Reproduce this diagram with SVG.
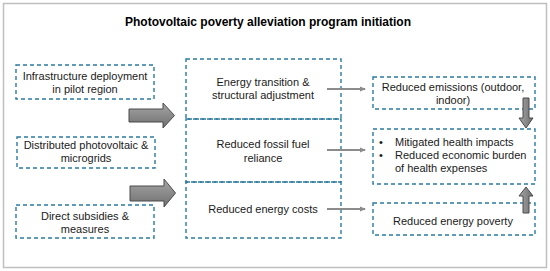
<svg xmlns="http://www.w3.org/2000/svg" width="550" height="271" viewBox="0 0 550 271">
<style>
.box{fill:none;stroke:#2b7aa0;stroke-width:1.4;stroke-dasharray:4 3}
.t{font-family:"Liberation Sans",Arial,sans-serif;font-size:11px;fill:#1a1a1a;text-anchor:middle}
.tl{font-family:"Liberation Sans",Arial,sans-serif;font-size:11px;fill:#1a1a1a}
.title{font-family:"Liberation Sans",Arial,sans-serif;font-size:12px;font-weight:bold;fill:#000;text-anchor:middle}
.thin{stroke:#8c8c8c;stroke-width:2;fill:none}
.blk{fill:url(#g);stroke:#4a4a4a;stroke-width:1}
.blkv{fill:url(#gv);stroke:#4a4a4a;stroke-width:1}
</style>
<defs>
<linearGradient id="g" x1="0" y1="0" x2="0" y2="1">
<stop offset="0" stop-color="#a6a6a6"/><stop offset="1" stop-color="#6f6f6f"/>
</linearGradient>
<linearGradient id="gv" x1="0" y1="0" x2="1" y2="0">
<stop offset="0" stop-color="#a6a6a6"/><stop offset="1" stop-color="#6f6f6f"/>
</linearGradient>
<marker id="ah" markerWidth="6" markerHeight="6" refX="5" refY="3" orient="auto" markerUnits="userSpaceOnUse">
<path d="M0,0.5 L6,3 L0,5.5 Z" fill="#8c8c8c"/>
</marker>
</defs>
<rect x="0" y="0" width="550" height="271" fill="#fff"/>
<rect x="3.5" y="3.5" width="543" height="264" fill="none" stroke="#bfbfbf" stroke-width="1.5"/>
<text class="title" x="268" y="26">Photovoltaic poverty alleviation program initiation</text>

<g id="infra"><rect class="box" x="16" y="65" width="138" height="34"/><text class="t" x="85" y="80">Infrastructure deployment</text><text class="t" x="85" y="93">in pilot region</text></g>
<g id="distributed"><rect class="box" x="17" y="137" width="138" height="31"/><text class="t" x="86" y="149">Distributed photovoltaic &amp;</text><text class="t" x="86" y="162">microgrids</text></g>
<g id="subsidies"><rect class="box" x="16" y="205" width="138" height="33"/><text class="t" x="85" y="220">Direct subsidies &amp;</text><text class="t" x="85" y="233">measures</text></g>

<g id="energy-transition"><rect class="box" x="186" y="59" width="155" height="60"/><text class="t" x="263" y="86">Energy transition &amp;</text><text class="t" x="263" y="99">structural adjustment</text></g>
<g id="fossil"><rect class="box" x="186" y="119" width="155" height="63"/><text class="t" x="263" y="148">Reduced fossil fuel</text><text class="t" x="263" y="162">reliance</text></g>
<g id="costs"><rect class="box" x="186" y="182" width="155" height="56"/><text class="t" x="263" y="213">Reduced energy costs</text></g>

<g id="emissions"><rect class="box" x="373" y="77" width="162" height="32"/><text class="t" x="453" y="91">Reduced emissions (outdoor,</text><text class="t" x="453" y="104">indoor)</text></g>
<g id="health"><rect class="box" x="373" y="129" width="162" height="55"/><text class="tl" x="379" y="146">•</text><text class="tl" x="395" y="146">Mitigated health impacts</text><text class="tl" x="379" y="159">•</text><text class="tl" x="395" y="159">Reduced economic burden</text><text class="tl" x="395" y="172">of health expenses</text></g>
<g id="poverty"><rect class="box" x="373" y="203" width="162" height="32"/><text class="t" x="453" y="225">Reduced energy poverty</text></g>

<g id="connectors">
<path class="blk" d="M129,109 H163 V103 L174.5,115.5 L163,128 V122 H129 Z"/>
<path class="blk" d="M130,186 H164 V179 L175.5,193 L164,207 V201 H130 Z"/>
<path class="blkv" d="M523,98 H529 V118 H533 L526,128 L519,118 H523 Z"/>
<path class="blkv" d="M526,187 L533,196 H529 V213 H523 V196 H519 Z"/>
<line class="thin" x1="327" y1="89" x2="365" y2="89" marker-end="url(#ah)"/>
<line class="thin" x1="327" y1="150" x2="365" y2="150" marker-end="url(#ah)"/>
<line class="thin" x1="327" y1="209" x2="365" y2="209" marker-end="url(#ah)"/>
</g>
</svg>
